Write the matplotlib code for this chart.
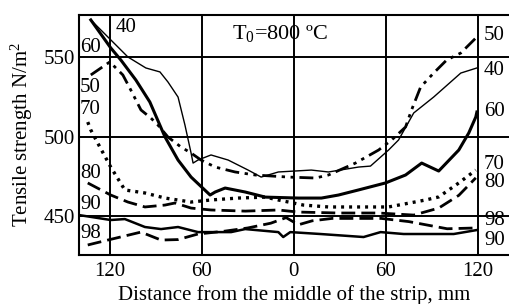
import matplotlib
matplotlib.use("Agg")
import matplotlib.pyplot as plt

plt.rcParams['font.family'] = ['Liberation Serif', 'DejaVu Serif']
plt.rcParams['mathtext.fontset'] = 'custom'
plt.rcParams['mathtext.rm'] = 'Liberation Serif'
plt.rcParams['mathtext.it'] = 'Liberation Serif:italic'

# distance from the middle (negative = left half), tensile strength N/m2
x40 = [-132.4, -108.2, -96.5, -87.3, -82.1, -75.5, -71.0, -67.0, -65.7, -62.5, -54.0,
       -42.8, -29.8, -21.3, -10.1, 11.4, 22.6, 42.2, 50.0, 61.8, 68.3, 78.2, 91.2, 108.9, 119.4]
y40 = [573.3, 550.0, 543.1, 540.6, 534.3, 524.8, 507.2, 489.6, 483.3, 485.2, 488.4,
       485.2, 478.9, 474.5, 477.7, 478.9, 477.7, 480.8, 481.4, 491.5, 497.8, 514.8, 524.8, 539.9, 543.1]

x60 = [-132.4, -119.4, -112.8, -103.0, -93.9, -84.0, -75.5, -67.0, -54.6, -51.3, -44.8,
       -31.7, -18.6, 2.9, 18.0, 29.1, 42.2, 59.8, 72.9, 83.4, 94.5, 107.6, 114.1, 118.7, 119.4]
y60 = [573.3, 555.7, 548.1, 535.5, 521.7, 499.7, 485.2, 474.5, 463.2, 465.1, 467.6,
       465.1, 461.9, 461.3, 461.3, 463.2, 466.4, 470.8, 475.8, 483.3, 478.3, 491.5, 502.2, 512.3, 515.4]

x50 = [-132.4, -120.0, -111.5, -106.3, -99.7, -93.2, -88.6, -82.1, -73.6, -67.0, -60.5,
       -51.3, -38.3, -25.2, -3.6, 14.1, 22.6, 40.2, 55.3, 63.8, 72.9, 76.8, 82.7, 91.2, 99.7, 108.9, 119.4]
y50 = [538.7, 546.9, 538.7, 529.2, 516.7, 511.6, 507.2, 499.7, 493.4, 489.6, 485.2,
       480.8, 477.7, 475.8, 474.5, 473.9, 475.8, 483.3, 491.5, 497.8, 506.0, 516.7, 531.1, 539.9, 548.1, 552.5, 562.6]

x70 = [-134.4, -132.4, -127.9, -119.4, -110.2, -97.1, -84.0, -67.0, -54.0, -36.3, -18.6,
       -10.1, 6.2, 22.6, 42.2, 61.8, 86.0, 94.5, 107.6, 118.7]
y70 = [509.1, 504.1, 495.9, 480.8, 466.4, 464.5, 461.3, 458.8, 460.1, 461.3, 461.9,
       460.1, 456.9, 455.7, 455.7, 455.7, 460.1, 462.0, 470.8, 478.9]

x80 = [-134.4, -119.4, -108.2, -97.1, -84.0, -77.5, -67.0, -54.0, -31.7, -10.1, 2.9,
       29.1, 55.3, 78.2, 94.5, 107.6, 118.7]
y80 = [470.8, 463.2, 458.8, 455.7, 456.9, 458.2, 455.0, 453.8, 453.1, 453.8, 452.5,
       451.9, 451.9, 450.6, 455.0, 463.0, 474.0]

x90 = [-140.0, -119.4, -110.2, -97.1, -86.6, -75.5, -62.5, -40.9, -31.7, -10.1, -6.9,
       -2.3, 17.3, 45.5, 56.6, 71.6, 104.3, 119.4]
y90 = [450.6, 447.5, 448.1, 443.1, 441.8, 443.1, 439.9, 439.9, 441.8, 439.9, 436.8,
       439.9, 438.7, 436.8, 439.9, 438.7, 438.7, 441.2]

x98 = [-134.4, -121.3, -99.7, -86.6, -75.5, -62.5, -45.0, -30.0, -15.0, -5.0, 3.0,
       12.0, 25.0, 42.0, 57.0, 75.0, 100.0, 119.4]
y98 = [431.8, 434.9, 439.9, 434.9, 435.2, 438.7, 440.5, 442.5, 445.5, 449.0, 444.5,
       447.0, 448.5, 448.5, 448.5, 446.5, 442.0, 442.5]

xticks = [-120, -60, 0, 60, 120]
xtick_labels = ["120", "60", "0", "60", "120"]
yticks = [450, 500, 550]

fig = plt.figure(figsize=(5.1, 3.04), dpi=100)
ax = fig.add_axes([79/510, 49/304, 431/510, 240/304])

for v in xticks:
    ax.axvline(v, color='black', lw=1.4, zorder=1)
for v in yticks:
    ax.axhline(v, color='black', lw=1.4, zorder=1)

ax.plot(x40, y40, color='black', lw=1.0)
ax.plot(x60, y60, color='black', lw=2.2)
ax.plot(x50, y50, color='black', lw=2.0, dashes=(5, 2, 1.2, 2, 1.2, 2))
ax.plot(x70, y70, color='black', lw=2.4, dashes=(0.9, 1.5))
ax.plot(x80, y80, color='black', lw=2.0, dashes=(5, 2.2))
ax.plot(x90, y90, color='black', lw=1.8)
ax.plot(x98, y98, color='black', lw=2.0, dashes=(5, 2.2))

fs = 15
for lab, yy in [("60", 555.7), ("50", 531.1), ("70", 516.7), ("80", 477.0), ("90", 457.5), ("98", 439.3)]:
    ax.text(-139.5, yy, lab, fontsize=fs, ha='left', va='center')
ax.text(-116.5, 568.5, "40", fontsize=fs, ha='left', va='center')
for lab, yy in [("50", 563.8), ("40", 541.5), ("60", 516.0), ("70", 482.5), ("80", 471.0), ("98", 447.0), ("90", 434.5)]:
    ax.text(124.0, yy, lab, fontsize=fs, ha='left', va='center')

ax.text(-40.5, 564.5, "T$_0$=800 ºC", fontsize=16, ha='left', va='center')

ax.set_xlim(-140.1, 141.0)
ax.set_ylim(425.5, 576.4)
ax.set_xticks(xticks)
ax.set_xticklabels(xtick_labels)
ax.set_yticks(yticks)
ax.tick_params(length=0, labelsize=fs, pad=5)
ax.tick_params(axis='y', pad=3)
for s in ['left', 'top', 'bottom']:
    ax.spines[s].set_linewidth(1.5)
ax.spines['right'].set_visible(False)

ax.set_xlabel("Distance from the middle of the strip, mm", fontsize=fs, labelpad=3)
ax.set_ylabel("Tensile strength N/m$^2$", fontsize=fs, labelpad=6)

fig.savefig("out.png", dpi=100)
